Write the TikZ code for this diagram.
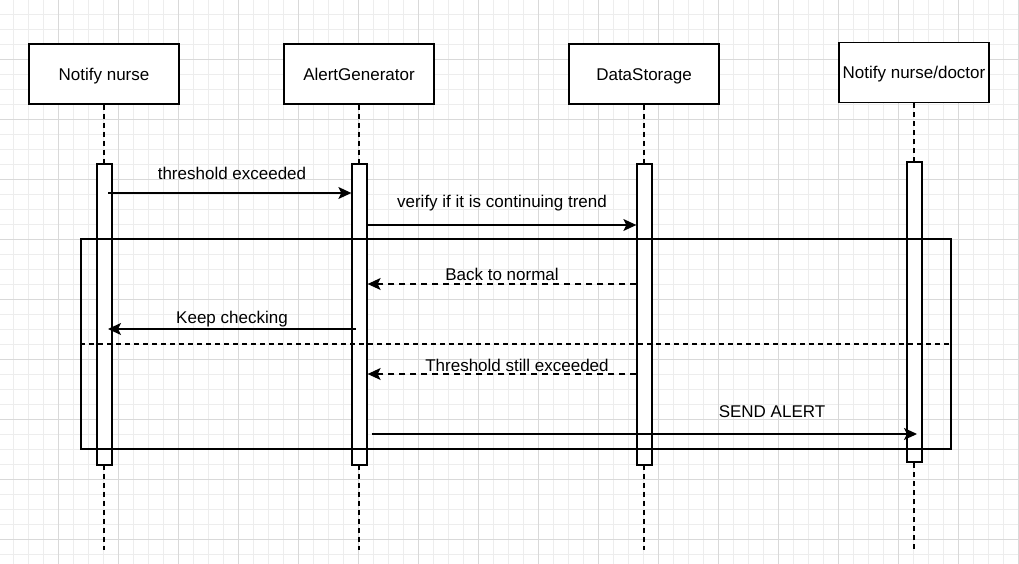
\documentclass[tikz,border=0pt]{standalone}
\usepackage{fontspec}
\setmainfont{Liberation Sans}
\usetikzlibrary{arrows.meta,calc}

\tikzset{
  head/.style={draw, line width=1.3pt, fill=white, minimum width=150pt, minimum height=60pt, inner sep=0pt, text height=12.5pt, text depth=0pt},
  bar/.style={draw, line width=1.3pt, fill=white, minimum width=15pt, minimum height=301pt, inner sep=0pt},
  life/.style={line width=1.3pt, dash pattern=on 5pt off 4pt},
  msg/.style={line width=1.3pt, -{Stealth[length=13pt,width=12pt,inset=3pt]}},
  reply/.style={msg, dash pattern=on 6pt off 5pt},
  lbl/.style={inner sep=0pt},
  minorgrid/.style={draw=black!7, line width=0.8pt},
  majorgrid/.style={draw=black!15, line width=0.8pt},
}

\begin{document}
\begin{tikzpicture}[x=1pt, y=-1pt, font=\fontsize{17}{20}\selectfont]
 \useasboundingbox (0,0) rectangle (1019,564);
 % grid
 \foreach \x in {13,28,...,1018} \draw[minorgrid] (\x,0) -- (\x,564);
 \foreach \y in {14,29,...,560} \draw[minorgrid] (0,\y) -- (1019,\y);
 \foreach \x in {58,118,...,1018} \draw[majorgrid] (\x,0) -- (\x,564);
 \foreach \y in {59,119,...,560} \draw[majorgrid] (0,\y) -- (1019,\y);

 % lifeline heads
 \node[head] (nurse) at (104,74) {Notify nurse};
 \node[head] (alertgen) at (359,74) {AlertGenerator};
 \node[head] (storage) at (644,74) {DataStorage};
 \node[head] (doctor) at (914,72.5) {Notify nurse/doctor};

 \draw[life] (nurse.south) -- (nurse.south |- 0,550);
 \draw[life] (alertgen.south) -- (alertgen.south |- 0,550);
 \draw[life] (storage.south) -- (storage.south |- 0,550);
 \draw[life] (doctor.south) -- (doctor.south |- 0,550);

 % activations
 \node[bar] (nurseBar) at (104.5,314.5) {};
 \node[bar] (alertBar) at (359.5,314.5) {};
 \node[bar] (storageBar) at (644.5,314.5) {};
 \node[bar, minimum height=300pt] (doctorBar) at (914.5,312) {};

 % alt frame
 \node[draw, line width=1.3pt, minimum width=870pt, minimum height=210pt, inner sep=0pt] (frame) at (516,344) {};
 \draw[line width=1.3pt, dash pattern=on 5pt off 4pt] (frame.west) -- (frame.east);

 % messages
 \draw[msg] ($(nurseBar.center |- 0,193)+(3.5,0)$) -- (alertBar.west |- 0,193);
 \node[lbl] (m1) at (232,173) {threshold exceeded};
 \draw[msg] (alertBar.east |- 0,225) -- (storageBar.west |- 0,225);
 \node[lbl] (m2) at (502,203) {verify if it is continuing trend};
 \draw[reply] (storageBar.west |- 0,284) -- (alertBar.east |- 0,284);
 \node[lbl] (m3) at (502,274) {Back to normal};
 \draw[msg] ($(alertBar.center |- 0,329)+(-3.5,0)$) -- ($(nurseBar.center |- 0,329)+(3.5,0)$);
 \node[lbl] (m4) at (232,319) {Keep checking};
 \draw[reply] (storageBar.west |- 0,374) -- (alertBar.east |- 0,374);
 \node[lbl] (m5) at (517,365) {Threshold still exceeded};
 \draw[msg] ($(alertBar.east |- 0,434)+(4,0)$) -- ($(doctorBar.center |- 0,434)+(2.5,0)$);
 \node[lbl] (m6) at (772,412) {SEND ALERT};
\end{tikzpicture}
\end{document}
